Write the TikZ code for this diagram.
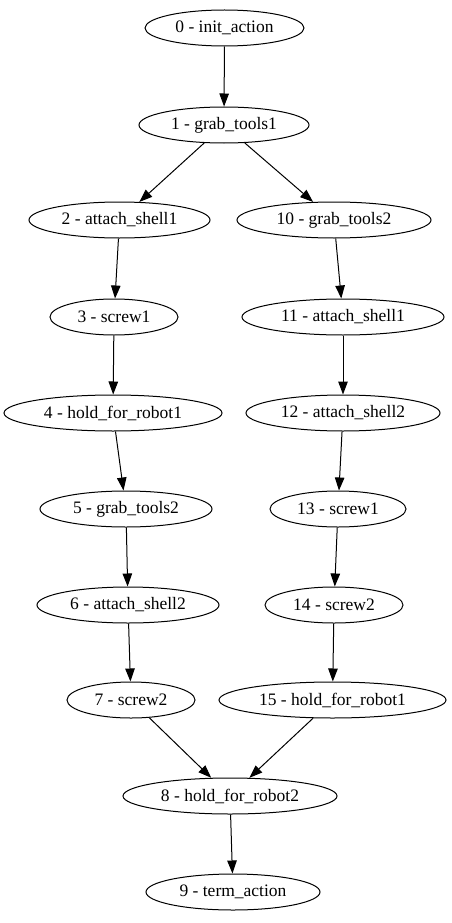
\documentclass[tikz,border=0pt]{standalone}
\usepackage{fontspec}
\setmainfont{Liberation Serif}
\usetikzlibrary{shapes.geometric,arrows.meta}
\tikzset{
  st/.style={draw, ellipse, inner sep=0pt, minimum height=36pt, font=\fontsize{17.5pt}{20pt}\selectfont, line width=1pt},
  edge/.style={draw, line width=1pt, -{Triangle[length=13pt,width=9.5pt]}}
}
\begin{document}
\begin{tikzpicture}[x=1pt,y=-1pt]
\useasboundingbox[fill=white] (0,0) rectangle (452,923);
\node[st, minimum width=159pt] (n0) at (224.5,28) {0 - init\_action};
\node[st, minimum width=170pt] (n1) at (224,125) {1 - grab\_tools1};
\node[st, minimum width=181pt] (n2) at (119.5,220) {2 - attach\_shell1};
\node[st, minimum width=194pt] (n10) at (334,220) {10 - grab\_tools2};
\node[st, minimum width=128pt] (n3) at (114,317) {3 - screw1};
\node[st, minimum width=202pt] (n11) at (343,317) {11 - attach\_shell1};
\node[st, minimum width=218pt] (n4) at (113,413) {4 - hold\_for\_robot1};
\node[st, minimum width=194pt] (n12) at (343,413) {12 - attach\_shell2};
\node[st, minimum width=172pt] (n5) at (126,509) {5 - grab\_tools2};
\node[st, minimum width=136pt] (n13) at (338,509) {13 - screw1};
\node[st, minimum width=182pt] (n6) at (128,605) {6 - attach\_shell2};
\node[st, minimum width=138pt] (n14) at (334,605) {14 - screw2};
\node[st, minimum width=128pt] (n7) at (131,700) {7 - screw2};
\node[st, minimum width=227pt] (n15) at (332.5,700) {15 - hold\_for\_robot1};
\node[st, minimum width=214pt] (n8) at (230,796) {8 - hold\_for\_robot2};
\node[st, minimum width=174pt] (n9) at (233,892) {9 - term\_action};
\path[edge] (n0) -- (n1);
\path[edge] (n1) -- (n2);
\path[edge] (n1) -- (n10);
\path[edge] (n2) -- (n3);
\path[edge] (n3) -- (n4);
\path[edge] (n4) -- (n5);
\path[edge] (n5) -- (n6);
\path[edge] (n6) -- (n7);
\path[edge] (n7) -- (n8);
\path[edge] (n10) -- (n11);
\path[edge] (n11) -- (n12);
\path[edge] (n12) -- (n13);
\path[edge] (n13) -- (n14);
\path[edge] (n14) -- (n15);
\path[edge] (n15) -- (n8);
\path[edge] (n8) -- (n9);
\end{tikzpicture}
\end{document}
